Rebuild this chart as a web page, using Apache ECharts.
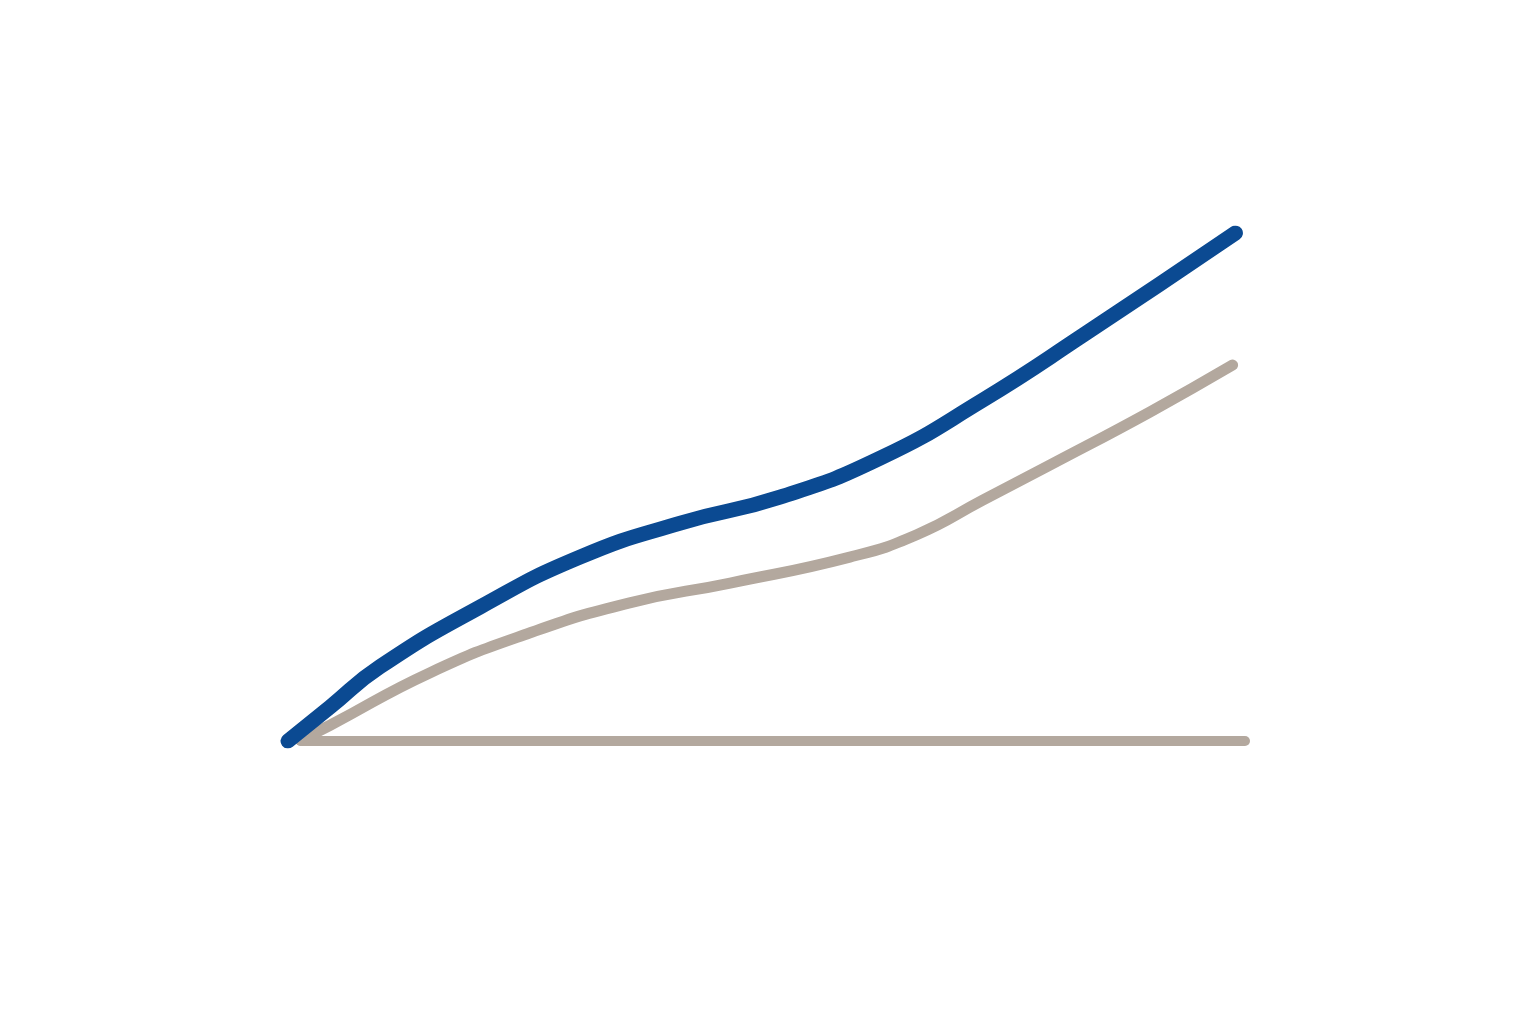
<!DOCTYPE html>
<html><head><meta charset="utf-8">
<script src="https://cdn.jsdelivr.net/npm/echarts@6/dist/echarts.min.js"></script>
<style>html,body{margin:0;padding:0;background:#fff}#c{width:1536px;height:1024px}</style>
</head><body><div id="c"></div>
<script>
// x positions (0-100) and values (0-100)
const blueX = [0, 4.4, 9.6, 20.1, 30.5, 41.0, 51.4, 61.9, 72.6, 83.1, 99.0];
const blueY = [0, 6.7, 14.6, 26.4, 36.2, 42.9, 48.0, 55.7, 67.1, 79.9, 100];
const grayX = [1.3, 4.4, 14.8, 25.3, 35.7, 46.2, 58.7, 65.7, 72.6, 79.6, 90.1, 98.7];
const grayY = [0.2, 3.1, 13.4, 21.3, 27.2, 31.1, 36.2, 40.6, 47.4, 54.3, 64.8, 74.0];
const baseX = [1.3, 100];
const baseY = [0, 0];

const zip = (a, b) => a.map((v, i) => [v, b[i]]);
const chart = echarts.init(document.getElementById('c'));
chart.setOption({
  animation: false,
  grid: {left: 288, right: 291, top: 233, bottom: 283},
  xAxis: {type: 'value', min: 0, max: 100, show: false},
  yAxis: {type: 'value', min: 0, max: 100, show: false},
  series: [
    {type: 'line', data: zip(baseX, baseY), symbol: 'none', z: 1,
     lineStyle: {color: '#b3a89e', width: 10, cap: 'round'}},
    {type: 'line', data: zip(grayX, grayY), smooth: 0.5, symbol: 'none', z: 2,
     lineStyle: {color: '#b3a89e', width: 11, cap: 'round', join: 'round'}},
    {type: 'line', data: zip(blueX, blueY), smooth: 0.5, symbol: 'none', z: 3,
     lineStyle: {color: '#0b4a92', width: 15, cap: 'round', join: 'round'}}
  ]
});
</script></body></html>
